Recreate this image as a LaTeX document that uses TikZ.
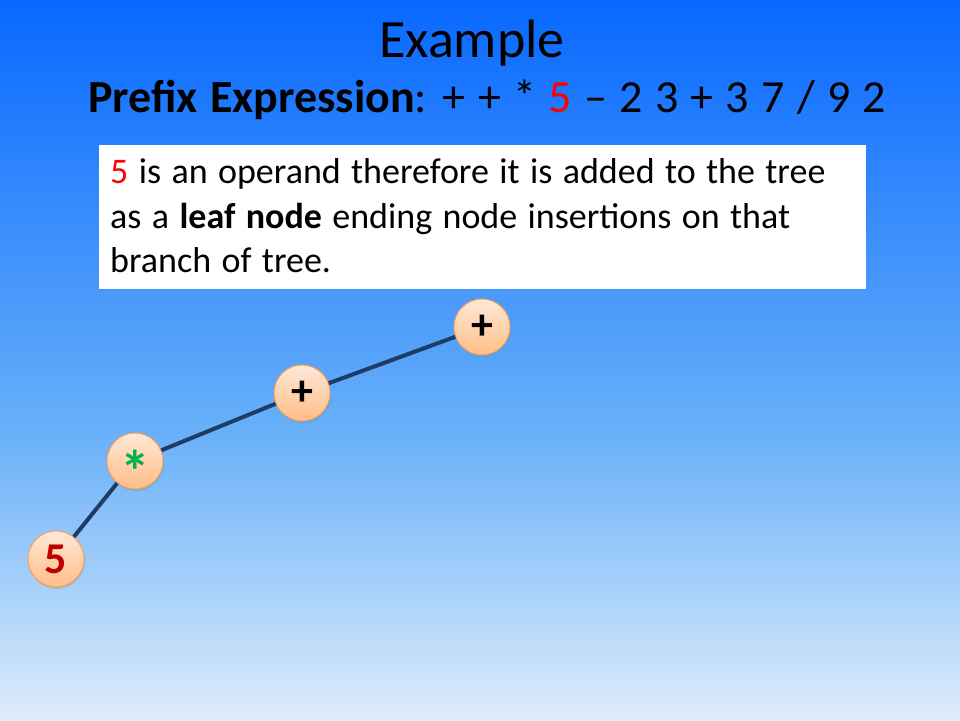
\documentclass[tikz,border=0pt]{standalone}
\usepackage{fontspec}
\setmainfont{Carlito}
\usetikzlibrary{shadows}
\definecolor{bgtop}{RGB}{8,104,255}
\definecolor{bgmid}{RGB}{104,176,249}
\definecolor{bgbot}{RGB}{222,236,251}
\definecolor{nodetop}{RGB}{255,232,214}
\definecolor{nodebot}{RGB}{255,190,136}
\definecolor{nodeedge}{RGB}{244,160,88}
\definecolor{branchcol}{RGB}{30,60,100}
\definecolor{opred}{RGB}{255,0,0}
\definecolor{leafred}{RGB}{192,0,0}
\definecolor{opgreen}{RGB}{0,176,80}
% wider inter-word spacing for the slide text
\newcommand\bodyspaces{\spaceskip=10.4pt\relax}
\newcommand\exprspaces{\spaceskip=12.3pt\relax}
% vertical slide gradient: the shaded path is mapped onto 25bp..75bp
\pgfdeclareverticalshading{slidebg}{100bp}{color(0bp)=(bgbot); color(25bp)=(bgbot); color(45bp)=(bgmid); color(75bp)=(bgtop); color(100bp)=(bgtop)}
\begin{document}
\begin{tikzpicture}[x=1pt,y=-1pt,
  treenode/.style={circle, draw=nodeedge, line width=1pt, top color=nodetop, bottom color=nodebot,
    minimum size=56pt, inner sep=0pt, font=\fontsize{44}{44}\selectfont\bfseries,
    drop shadow={opacity=0.25, shadow xshift=1pt, shadow yshift=-2pt}},
  branch/.style={draw=branchcol, line width=4pt},
  linetext/.style={anchor=base west, inner sep=0pt, font=\fontsize{36}{44}\selectfont\bodyspaces}]
  % slide background
  \shade[shading=slidebg] (0,0) rectangle (960,720);
  \useasboundingbox (0,0) rectangle (960,720);

  % heading
  \node[anchor=base, inner sep=0pt, font=\fontsize{54}{60}\selectfont] (title) at (472,57) {Example};
  \node[anchor=base west, inner sep=0pt, font=\fontsize{46}{50}\selectfont\exprspaces] (expr) at (88,112)
    {\textbf{Prefix Expression}: + + * \textcolor{opred}{5} – 2 3 + 3 7 / 9 2};

  % explanation box
  \node[anchor=north west, fill=white, minimum width=767pt, minimum height=144pt, inner sep=0pt] (box) at (99,145) {};
  \node[linetext] (l1) at (110,183) {\textcolor{opred}{5} is an operand therefore it is added to the tree};
  \node[linetext] (l2) at (110,228) {as a \textbf{leaf node} ending node insertions on that};
  \node[linetext] (l3) at (110,272) {branch of tree.};

  % expression tree built so far
  \node[treenode] (root) at (482,327) {+};
  \node[treenode] (plus) at (302,393) {+};
  \node[treenode] (mul)  at (135,461) {\raisebox{-31pt}[0pt][0pt]{\scalebox{1.35}{\textcolor{opgreen}{*}}}};
  \node[treenode] (five) at (56,559)  {\textcolor{leafred}{5}};

  \draw[branch] (root) -- (plus);
  \draw[branch] (plus) -- (mul);
  \draw[branch] (mul) -- (five);
\end{tikzpicture}
\end{document}
